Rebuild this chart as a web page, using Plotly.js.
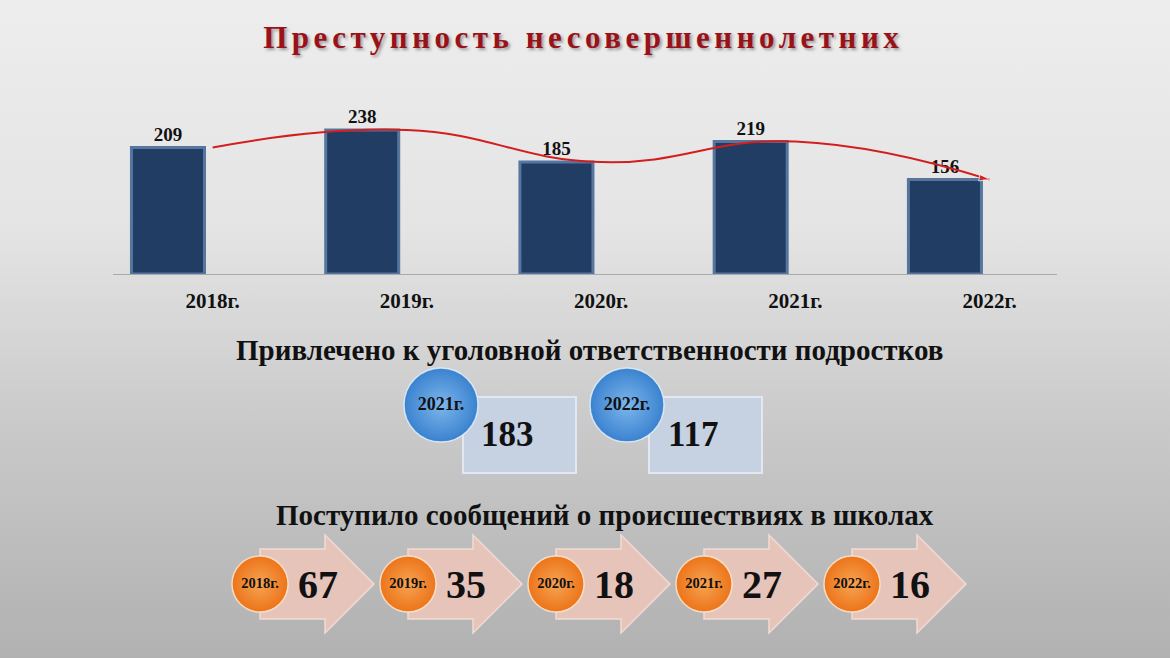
<!DOCTYPE html>
<html>
<head>
<meta charset="utf-8">
<script src="https://cdn.plot.ly/plotly-3.0.1.min.js"></script>
<style>
  html, body { margin:0; padding:0; }
  body { width:1170px; height:658px; overflow:hidden;
    background: linear-gradient(to bottom, #ededed 0%, #e4e4e4 35%, #c9c9c9 65%, #b1b1b1 100%); }
  #chart { width:1170px; height:658px; }
  .annotation[data-index="0"] text { letter-spacing: 4.5px; }
</style>
</head>
<body>
<div id="chart"></div>
<script>
// ---- data ----
const years = ['2018г.', '2019г.', '2020г.', '2021г.', '2022г.'];
const crimeValues = [209, 238, 185, 219, 156];
const chargedYears = ['2021г.', '2022г.'];
const chargedValues = [183, 117];
const schoolYears = ['2018г.', '2019г.', '2020г.', '2021г.', '2022г.'];
const schoolReports = [67, 35, 18, 27, 16];

const titleText = 'Преступность несовершеннолетних';
const chargedTitle = 'Привлечено к уголовной ответственности подростков';
const schoolTitle = 'Поступило сообщений о происшествиях в школах';

// ---- layout helpers (pixel overlay) ----
const SERIF = '"Liberation Serif", "Times New Roman", serif';
const labelOffset = 0.23;
const barIdx = years.map((_, i) => i);
const lineIdx = years.map((_, i) => i + labelOffset);

const blueCx = chargedYears.map((_, i) => 441 + i * 186);
const blueCy = 405;
const orangeCx = schoolYears.map((_, i) => 260 + i * 148);
const orangeCy = 584;

const traces = [
  {
    type: 'bar', x: barIdx, y: crimeValues, xaxis: 'x', yaxis: 'y',
    width: 0.376,
    marker: { color: '#213d64', line: { color: '#56769f', width: 3 } },
    text: crimeValues.map(String), textposition: 'outside', cliponaxis: false,
    textfont: { family: SERIF, size: 19, color: '#111', weight: 'bold' },
    hoverinfo: 'skip', showlegend: false
  },
  {
    type: 'scatter', mode: 'lines+markers', x: lineIdx, y: crimeValues,
    xaxis: 'x', yaxis: 'y',
    line: { color: '#d41e1e', width: 2, shape: 'spline', smoothing: 1.3 },
    marker: {
      color: '#d41e1e',
      symbol: crimeValues.map((_, i) => i === crimeValues.length - 1 ? 'arrow' : 'circle'),
      size: crimeValues.map((_, i) => i === 0 ? 8 : (i === crimeValues.length - 1 ? 11 : 0)),
      angleref: 'previous'
    },
    cliponaxis: false, hoverinfo: 'skip', showlegend: false
  },
  {
    type: 'scatter', mode: 'markers+text', xaxis: 'x2', yaxis: 'y2',
    x: blueCx, y: chargedYears.map(() => blueCy),
    text: chargedYears, textposition: 'middle center',
    textfont: { family: SERIF, size: 18, color: '#111', weight: 'bold' },
    marker: { size: 74, color: '#3a82cf',
      gradient: { type: 'radial', color: '#7db6ec' },
      line: { color: 'rgba(230,242,255,0.8)', width: 1.5 } },
    hoverinfo: 'skip', showlegend: false
  },
  {
    type: 'scatter', mode: 'markers+text', xaxis: 'x2', yaxis: 'y2',
    x: orangeCx, y: schoolYears.map(() => orangeCy),
    text: schoolYears, textposition: 'middle center',
    textfont: { family: SERIF, size: 14.5, color: '#111', weight: 'bold' },
    marker: { size: 56, color: '#ec741a',
      gradient: { type: 'radial', color: '#f6a452' },
      line: { color: 'rgba(255,235,210,0.8)', width: 1.5 } },
    hoverinfo: 'skip', showlegend: false
  }
];

const shapes = [];
chargedYears.forEach((_, i) => {
  const cx = blueCx[i];
  shapes.push({ type: 'rect', xref: 'x2', yref: 'y2', layer: 'below',
    x0: cx + 22, x1: cx + 135, y0: 397, y1: 473,
    fillcolor: '#c6d1e1', line: { color: '#e2e8f1', width: 2 } });
});
schoolYears.forEach((_, i) => {
  const L = orangeCx[i];
  const p = `M ${L},549 L ${L + 65},549 L ${L + 65},535 L ${L + 114},584 L ${L + 65},633 L ${L + 65},619 L ${L},619 Z`;
  shapes.push({ type: 'path', xref: 'x2', yref: 'y2', layer: 'below', path: p,
    fillcolor: '#e7c4ba', line: { color: '#f1dbd3', width: 1.5 } });
});

const annotations = [
  { text: titleText, xref: 'x2', yref: 'y2', x: 583, y: 37, showarrow: false,
    font: { family: SERIF, size: 31, color: '#9a1219', weight: 'bold', shadow: '2px 2px 3px rgba(0,0,0,0.35)' } },
  { text: chargedTitle, xref: 'x2', yref: 'y2', x: 589, y: 350, showarrow: false,
    font: { family: SERIF, size: 29, color: '#111', weight: 'bold' } },
  { text: schoolTitle, xref: 'x2', yref: 'y2', x: 605, y: 515, showarrow: false,
    font: { family: SERIF, size: 29, color: '#111', weight: 'bold' } }
];
chargedValues.forEach((v, i) => {
  annotations.push({ text: String(v), xref: 'x2', yref: 'y2', x: blueCx[i] + 66, y: 434,
    showarrow: false, font: { family: SERIF, size: 35, color: '#111', weight: 'bold' } });
});
schoolReports.forEach((v, i) => {
  annotations.push({ text: String(v), xref: 'x2', yref: 'y2', x: orangeCx[i] + 58, y: 584,
    showarrow: false, font: { family: SERIF, size: 40, color: '#111', weight: 'bold' } });
});

const layout = {
  width: 1170, height: 658,
  margin: { l: 0, r: 0, t: 0, b: 0 },
  paper_bgcolor: 'rgba(0,0,0,0)', plot_bgcolor: 'rgba(0,0,0,0)',
  showlegend: false,
  xaxis: {
    domain: [113 / 1170, 1057 / 1170], range: [-0.283, 4.577],
    tickvals: lineIdx, ticktext: years, ticks: '', ticklabelstandoff: 8,
    tickfont: { family: SERIF, size: 21, color: '#111', weight: 'bold' },
    showgrid: false, zeroline: false, showline: true, linecolor: '#a9a9a9', linewidth: 1,
    fixedrange: true
  },
  yaxis: {
    domain: [1 - 274 / 658, 1 - 92.5 / 658], range: [0, 300],
    visible: false, showgrid: false, zeroline: false, fixedrange: true
  },
  xaxis2: { domain: [0, 1], range: [0, 1170], visible: false, anchor: 'y2', fixedrange: true },
  yaxis2: { domain: [0, 1], range: [658, 0], visible: false, anchor: 'x2', fixedrange: true },
  shapes: shapes,
  annotations: annotations
};

Plotly.newPlot('chart', traces, layout, { displayModeBar: false, staticPlot: true });
</script>
</body>
</html>
